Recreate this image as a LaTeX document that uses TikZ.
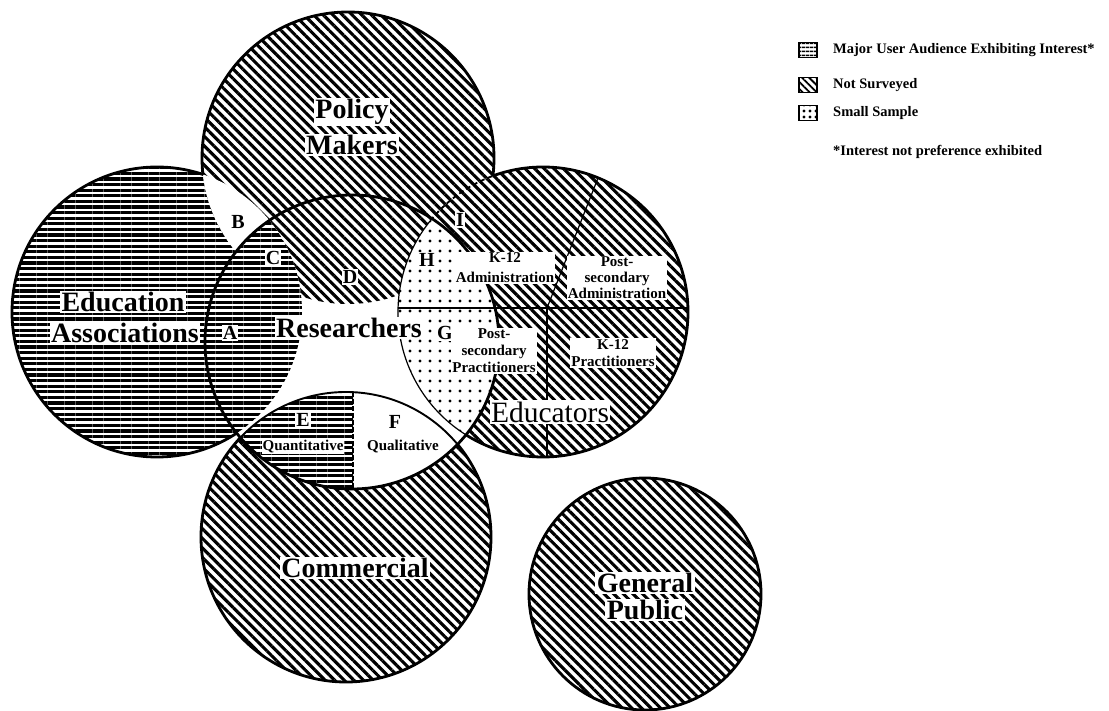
\documentclass[tikz,border=0pt]{standalone}
\usepackage{fontspec}
\setmainfont{Liberation Serif}
\usetikzlibrary{patterns.meta}
\begin{document}
\begin{tikzpicture}[x=1pt,y=-1pt,
  diag/.style={pattern={Lines[angle=-45,distance=6.8pt,line width=3.1pt]}},
  horiz/.style={pattern={Lines[angle=0,distance=5.6pt,line width=3.1pt]}},
  dotfill/.style={pattern={Dots[distance=10pt,radius=1.6pt]}},
  outl/.style={line width=2.8pt},
  thinl/.style={line width=1.2pt},
  big/.style={font=\fontsize{28}{30}\selectfont\bfseries, fill=white, inner sep=1.5pt},
  letter/.style={font=\fontsize{20}{20}\selectfont\bfseries, fill=white, inner sep=1pt},
  small/.style={font=\fontsize{15}{17}\selectfont\bfseries, fill=white, inner sep=1pt, align=center},
  leg/.style={font=\fontsize{14.5}{15}\selectfont\bfseries, anchor=west, inner sep=0pt},
  legbox/.style={draw, line width=1.8pt, minimum width=18pt, minimum height=15pt, inner sep=0pt},
]
\fill[white] (0,0) rectangle (1109,711);
\useasboundingbox (0,0) rectangle (1109,711);

\coordinate (pm) at (348,158);
\coordinate (ea) at (157,312);
\coordinate (r) at (352,342);
\coordinate (edu) at (543,312);
\coordinate (com) at (346,537);
\coordinate (gp) at (645,594);
\def\bigbox{(-20,-20) rectangle (1130,730)}

% ---- base fills
\fill[horiz] (ea) circle[radius=145pt];
\fill[white] (pm) circle[radius=146pt];
\fill[diag] (pm) circle[radius=146pt];
\fill[white] (edu) circle[radius=145pt];
\fill[diag] (edu) circle[radius=145pt];
\fill[white] (com) circle[radius=145pt];
\fill[diag] (com) circle[radius=145pt];
\fill[diag] (gp) circle[radius=116pt];
% B : EA and PM, white
\begin{scope}
  \clip (ea) circle[radius=145pt];
  \fill[white] (pm) circle[radius=146pt];
\end{scope}
% Researchers
\fill[white] (r) circle[radius=147pt];
\begin{scope}
  \clip (r) circle[radius=147pt];
  \fill[diag] (pm) circle[radius=146pt];
  \fill[white] (ea) circle[radius=145pt];
  \fill[horiz] (ea) circle[radius=145pt];
  \fill[white] (edu) circle[radius=145pt];
  \fill[dotfill] (edu) circle[radius=145pt];
  \fill[white] (com) circle[radius=145pt];
  \begin{scope}
    \clip (com) circle[radius=145pt];
    \fill[horiz] (0,300) rectangle (353,520);
  \end{scope}
\end{scope}

% ---- dividers
\coordinate (ec) at (547,308);
\coordinate (eL) at (398,308);
\coordinate (eR) at (688,308);
\coordinate (eB) at (547,457);
\coordinate (eT) at (598,178);
\draw[thinl] (eL) -- (eR);
\draw[thinl] (ec) -- (eB);
\draw[thinl] (ec) -- (eT);
\coordinate (efT) at (353,392);
\coordinate (efB) at (353,489);
\draw[line width=1.2pt, dash pattern=on 5pt off 2pt] (efT) -- (efB);

% ---- outlines
\begin{scope}[even odd rule]
  \clip \bigbox (r) circle[radius=147pt];
  \clip \bigbox (pm) circle[radius=146pt];
  \draw[outl] (ea) circle[radius=145pt];
\end{scope}
\begin{scope}[even odd rule]
  \clip \bigbox (r) circle[radius=147pt];
  \clip \bigbox (ea) circle[radius=145pt];
  \clip \bigbox (edu) circle[radius=145pt];
  \draw[outl] (pm) circle[radius=146pt];
\end{scope}
\begin{scope}[even odd rule]
  \clip \bigbox (r) circle[radius=147pt];
  \clip \bigbox (pm) circle[radius=146pt];
  \draw[outl] (edu) circle[radius=145pt];
\end{scope}
\begin{scope}[even odd rule]
  \clip \bigbox (r) circle[radius=147pt];
  \clip (pm) circle[radius=146pt];
  \draw[line width=1.8pt, dash pattern=on 5pt off 3pt] (edu) circle[radius=145pt];
\end{scope}
\begin{scope}
  \clip (r) circle[radius=147pt];
  \draw[thinl] (edu) circle[radius=145pt];
  \draw[line width=1.9pt] (com) circle[radius=145pt];
\end{scope}
\begin{scope}[even odd rule]
  \clip \bigbox (r) circle[radius=147pt];
  \draw[outl] (com) circle[radius=145pt];
\end{scope}
\draw[outl] (gp) circle[radius=116pt];
\draw[outl] (r) circle[radius=147pt];

% ---- big labels
\node[big] (lp1) at (352,112) {Policy};
\node[big] (lp2) at (352,145) {Makers};
\node[big] (la1) at (123,302) {Education};
\node[big] (la2) at (125,333) {Associations};
\node[big] (lr) at (349,328) {Researchers};
\node[big, font=\fontsize{29.5}{30}\selectfont] (led) at (550,412) {Educators};
\node[big] (lc) at (355,568) {Commercial};
\node[big] (lg1) at (645,583) {General};
\node[big] (lg2) at (645,610) {Public};

% ---- letters
\node[letter] (A) at (230,333) {A};
\node[letter] (B) at (238,222) {B};
\node[letter] (C) at (273,258) {C};
\node[letter] (D) at (350,277) {D};
\node[letter] (E) at (303,420) {E};
\node[letter] (F) at (395,422) {F};
\node[letter] (G) at (445,333) {G};
\node[letter] (H) at (427,260) {H};
\node[letter] (I) at (460,220) {I};

% ---- small labels
\node[small] (qn) at (303,447) {Quantitative};
\node[small] (ql) at (403,447) {Qualitative};
\node[small, font=\fontsize{15}{20}\selectfont\bfseries] (k12a) at (505,268) {K-12\\Administration};
\node[small, font=\fontsize{15}{16}\selectfont\bfseries] (psa) at (617,278) {Post-\\secondary\\Administration};
\node[small] (psp) at (494,351) {Post-\\secondary\\Practitioners};
\node[small] (k12p) at (613,353) {K-12\\Practitioners};

% ---- legend
\node[legbox, pattern={Lines[angle=0,distance=4pt,line width=1.8pt]}] (k1) at (808,50) {};
\node[legbox, pattern={Lines[angle=-45,distance=5pt,line width=1.8pt]}] (k2) at (808,85) {};
\node[legbox, pattern={Dots[distance=6pt,radius=1.6pt]}] (k3) at (808,113) {};
\node[leg] (t1) at (833,50) {Major User Audience Exhibiting Interest*};
\node[leg] (t2) at (833,85) {Not Surveyed};
\node[leg] (t3) at (833,113) {Small Sample};
\node[leg] (t4) at (833,152) {*Interest not preference exhibited};
\end{tikzpicture}
\end{document}
